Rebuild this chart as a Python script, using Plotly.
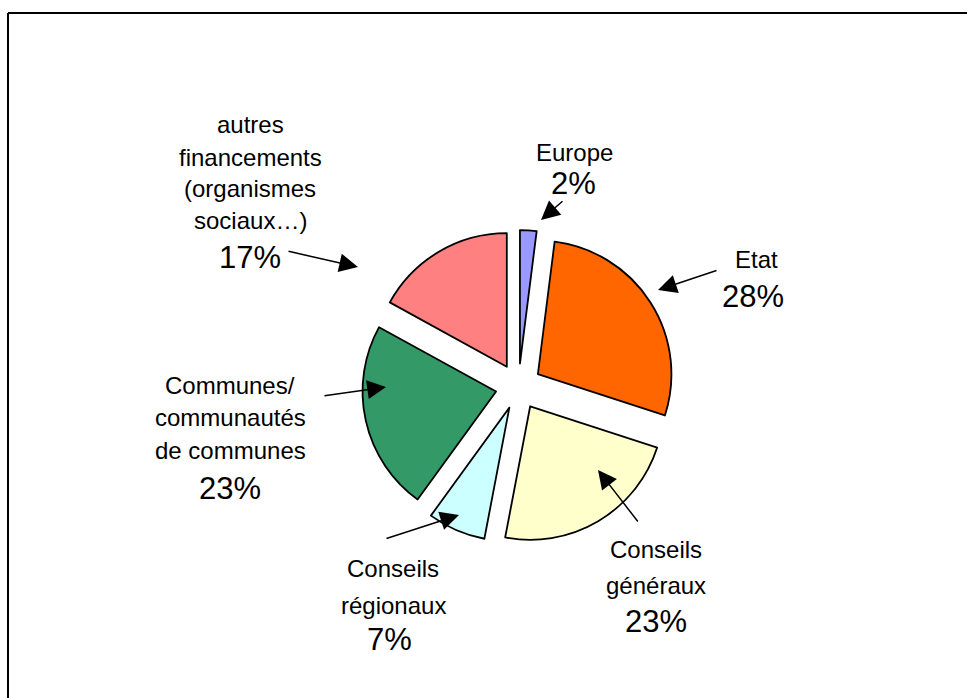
import plotly.graph_objects as go

# ---- data ----
categories = ["Europe", "Etat", "Conseils généraux", "Conseils régionaux",
              "Communes/ communautés de communes",
              "autres financements (organismes sociaux…)"]
values = [2, 28, 23, 7, 23, 17]
colors = ["#9999FF", "#FF6600", "#FFFFCC", "#CCFFFF", "#339966", "#FF8080"]
label_lines = [
    ["Europe"],
    ["Etat"],
    ["Conseils", "généraux"],
    ["Conseils", "régionaux"],
    ["Communes/", "communautés", "de communes"],
    ["autres", "financements", "(organismes", "sociaux…)"],
]

W, H = 967, 698
FONT = "Liberation Sans, Arial, sans-serif"

# layout of the labels (pixel positions of each label line and of the percentage)
label_pos = [
    (574, [152], (573, 184)),
    (756, [260], (753, 296)),
    (656, [549, 585], (656, 621)),
    (393, [568, 605], (389, 639)),
    (230, [385, 417, 450], (230, 488)),
    (250, [125, 157, 188, 220], (250, 258)),
]
# arrows: (tail_x, tail_y, head_x, head_y) in pixels
arrows = [
    (564, 200, 541, 220),
    (718, 270, 658, 290),
    (639, 523, 598, 470),
    (385, 539, 459, 515),
    (323, 396, 386, 387),
    (287, 251, 358, 267),
]


def px(x):
    return x / W


def py(y):
    return 1 - y / H


cx, cy, half = 518.5, 386.5, 156.5

fig = go.Figure(go.Pie(
    labels=categories,
    values=values,
    sort=False,
    direction="clockwise",
    rotation=0,
    pull=[0.172] * len(values),
    marker=dict(colors=colors, line=dict(color="black", width=1.8)),
    textinfo="none",
    hoverinfo="label+percent",
    showlegend=False,
    domain=dict(x=[px(cx - half), px(cx + half)], y=[py(cy + half), py(cy - half)]),
))

annotations = []
total = sum(values)
for lines, (lx, lys, (pxx, pyy)), v in zip(label_lines, label_pos, values):
    for line, ly in zip(lines, lys):
        annotations.append(dict(
            x=px(lx), y=py(ly), xref="paper", yref="paper",
            text=line, showarrow=False, xanchor="center", yanchor="middle",
            font=dict(family=FONT, size=24, color="black"),
        ))
    annotations.append(dict(
        x=px(pxx), y=py(pyy), xref="paper", yref="paper",
        text=f"{round(v / total * 100)}%", showarrow=False,
        xanchor="center", yanchor="middle",
        font=dict(family=FONT, size=31, color="black"),
    ))

for tx, ty, hx, hy in arrows:
    annotations.append(dict(
        x=px(hx), y=py(hy), xref="paper", yref="paper",
        ax=tx - hx, ay=ty - hy, axref="pixel", ayref="pixel",
        text="", showarrow=True, arrowhead=2, arrowsize=2.5,
        arrowwidth=1.5, arrowcolor="black", standoff=0, startstandoff=0,
    ))

shapes = [
    dict(type="line", xref="paper", yref="paper",
         x0=px(8), x1=1.0, y0=py(13), y1=py(13),
         line=dict(color="black", width=2)),
    dict(type="line", xref="paper", yref="paper",
         x0=px(8), x1=px(8), y0=py(13), y1=0.0,
         line=dict(color="black", width=2)),
]

fig.update_layout(
    width=W, height=H,
    margin=dict(l=0, r=0, t=0, b=0),
    paper_bgcolor="white", plot_bgcolor="white",
    annotations=annotations, shapes=shapes,
    font=dict(family=FONT),
)

fig.write_html("out.html")
